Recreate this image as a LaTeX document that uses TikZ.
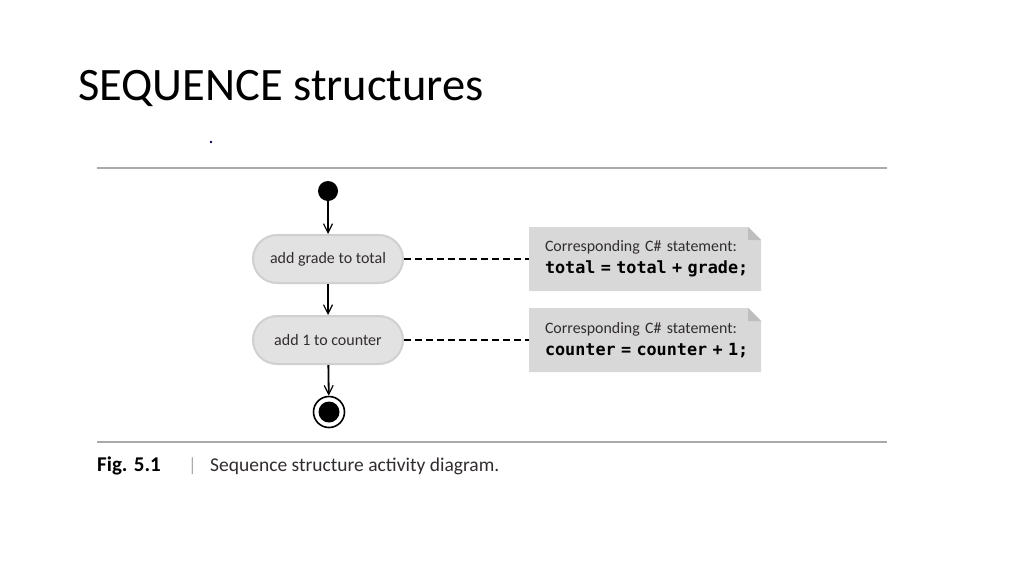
\documentclass[tikz,border=0pt]{standalone}
\usepackage{fontspec}
\setmainfont{Carlito}
\newfontfamily\codefont{DejaVu Sans Mono}[WordSpace={1,0,0}]
\usetikzlibrary{arrows.meta,positioning}
\definecolor{rulegray}{RGB}{170,170,170}
\definecolor{notegray}{RGB}{216,216,216}
\definecolor{foldgray}{RGB}{190,190,190}
\definecolor{actfill}{RGB}{226,226,226}
\definecolor{actedge}{RGB}{208,208,208}
\definecolor{textdark}{RGB}{50,45,45}
\tikzset{
  actbox/.style={rectangle, rounded corners=24pt, minimum width=150pt, minimum height=48pt,
    fill=actfill, draw=actedge, line width=2pt, font=\fontsize{16}{18}\selectfont, text=textdark, inner sep=0pt},
  notebox/.style={rectangle, minimum width=232pt, minimum height=64pt, inner sep=0pt,
    text width=226pt, align=left, font=\fontsize{15.9}{22}\selectfont,
    path picture={
      \fill[notegray] (path picture bounding box.south west) -- (path picture bounding box.north west)
        -- ([xshift=-13pt]path picture bounding box.north east) -- ([yshift=-13pt]path picture bounding box.north east)
        -- (path picture bounding box.south east) -- cycle;
      \fill[foldgray] ([xshift=-13pt]path picture bounding box.north east) -- ([xshift=-13pt,yshift=-13pt]path picture bounding box.north east)
        -- ([yshift=-13pt]path picture bounding box.north east) -- cycle;
    }},
  flow/.style={line width=1.8pt, -{Straight Barb[length=9pt,width=9pt,line width=1.2pt]}},
  link/.style={line width=1.3pt, dash pattern=on 7pt off 4pt},
  rulestyle/.style={rulegray, line width=2.2pt},
}
\newcommand{\notelineA}{\hspace*{13pt}{\color{textdark}Corresponding C\# statement:}}
\newcommand{\notecode}[1]{\hspace*{13pt}{\codefont\fontsize{16.8}{22}\selectfont\bfseries #1}}
\begin{document}
\begin{tikzpicture}[x=1pt,y=-1pt]
\useasboundingbox[fill=white] (0,0) rectangle (1024,576);
% title
\node[anchor=base west, inner sep=0pt, font=\fontsize{46.5}{50}\selectfont] (title) at (78,100) {SEQUENCE structures};
% small dot
\fill[black!70!blue] (211,142) circle (1.4pt);
% rules
\draw[rulestyle] (97,168) -- (887,168);
\draw[rulestyle] (97,442) -- (887,442);
% diagram
\node[circle, fill=black, minimum size=20pt, inner sep=0pt] (start) at (328,191) {};
\node[actbox] (a1) at (328,259) {add grade to total};
\node[actbox] (a2) at (328,340) {add 1 to counter};
\node[circle, draw=black, fill=white, line width=1.6pt, minimum size=31pt, inner sep=0pt] (end) at (329,412) {};
\fill[black] (end.center) circle (10.5pt);
\draw[flow] (start) -- (a1);
\draw[flow] (a1) -- (a2);
\draw[flow] (a2) -- (end);
\node[notebox] (n1) at (645,259) {\notelineA\\\notecode{total = total + grade;}};
\node[notebox] (n2) at (645,340) {\notelineA\\\notecode{counter = counter + 1;}};
\draw[link] (a1.east) -- (n1.west);
\draw[link] (a2.east) -- (n2.west);
% caption
\node[anchor=base west, inner sep=0pt, font=\fontsize{21}{24}\selectfont\bfseries] (figno) at (97,471) {Fig. 5.1};
\node[anchor=base west, inner sep=0pt, font=\fontsize{19}{22}\selectfont, text=rulegray] (bar) at (188,471) {|};
\node[anchor=base west, inner sep=0pt, font=\fontsize{19.5}{22}\selectfont, text=textdark] (cap) at (210,471) {Sequence structure activity diagram.};
\end{tikzpicture}
\end{document}
